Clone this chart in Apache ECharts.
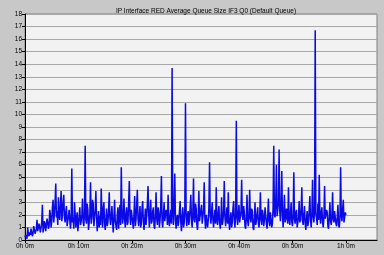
<!DOCTYPE html>
<html><head><meta charset="utf-8">
<script src="https://cdn.jsdelivr.net/npm/echarts@6/dist/echarts.min.js"></script>
<style>html,body{margin:0;padding:0;background:#c8c8c8}#c{width:384px;height:255px}</style>
</head><body><div id="c"></div>
<script>
const titleText = 'IP Interface RED Average Queue Size IF3 Q0 (Default Queue)';
const stepMinutes = 0.125;
const xTickMinutes = [0, 10, 20, 30, 40, 50, 60];
const queueSize = [
0.2,0.4,0.3,0.1,1.0,0.5,0.3,0.6, 0.4,0.9,0.6,0.3,0.5,1.1,1.0,0.5,
0.6,0.9,1.6,0.7,0.8,1.3,1.2,0.6, 0.7,1.4,2.8,0.6,0.9,1.5,1.3,0.7,
0.8,1.7,1.4,0.9,1.1,2.4,2.0,1.0, 1.5,2.6,3.2,1.4,2.1,3.0,4.5,1.8,
2.3,1.2,3.4,2.0,1.6,2.8,3.9,1.5, 2.0,3.1,3.6,1.8,1.4,2.2,2.7,1.1,
1.2,1.9,2.4,1.6,0.9,1.7,5.7,1.4, 1.8,0.9,3.0,2.1,1.0,1.6,2.2,0.7,
0.8,1.9,2.6,1.2,1.5,2.0,3.3,1.4, 1.1,2.2,7.5,1.6,1.3,2.9,2.4,0.8,
0.9,2.1,4.6,1.3,1.7,3.2,2.9,1.1, 1.2,2.4,3.9,1.8,0.7,1.5,2.3,1.0,
1.9,1.2,4.1,2.2,1.0,2.5,3.0,1.3, 0.8,1.6,2.5,1.1,1.4,2.3,3.8,1.7,
1.2,2.0,2.7,1.4,0.6,1.8,3.2,1.5, 1.5,0.8,2.0,2.6,0.9,1.9,2.8,1.2,
5.8,2.2,1.3,2.0,3.3,1.6,1.0,2.1, 2.6,1.2,1.4,3.0,4.7,1.8,1.2,2.4,
2.4,1.4,0.9,2.1,3.5,1.1,1.6,2.8, 4.0,1.7,1.1,1.9,2.7,1.0,1.3,2.5,
3.1,1.5,0.8,1.6,2.5,1.2,1.9,2.9, 4.3,2.0,1.0,2.2,3.2,1.3,1.5,2.3,
2.6,1.1,0.9,2.0,3.8,1.7,1.2,2.6, 2.2,1.0,1.6,2.7,5.1,1.4,1.0,2.0,
3.0,1.5,1.4,2.4,2.1,1.2,3.6,1.7, 1.1,1.8,2.4,1.3,13.7,2.2,1.2,2.8,
5.3,1.6,0.9,1.8,2.0,1.1,1.5,2.3, 3.1,1.4,0.7,1.9,2.6,1.0,1.3,2.5,
10.9,1.8,1.1,2.0,2.3,1.2,1.7,2.6, 3.6,1.4,1.0,2.2,4.9,1.6,1.4,2.9,
2.5,1.2,0.8,1.9,3.9,1.5,1.6,2.4, 2.8,1.3,1.2,2.4,4.6,1.7,0.9,2.0,
2.1,1.0,1.5,2.6,6.2,1.9,1.3,2.2, 3.0,1.6,1.0,1.8,2.4,1.3,4.2,1.7,
1.2,2.1,2.7,1.4,0.9,1.6,3.4,1.2, 1.5,2.3,4.7,1.8,1.1,1.9,2.6,1.3,
3.8,1.5,0.8,1.7,2.2,1.0,1.4,2.5, 3.1,1.6,1.0,2.0,9.5,1.8,1.2,2.1,
2.8,1.4,1.3,2.3,4.8,1.9,1.6,2.7, 2.2,1.1,0.9,1.8,3.6,1.5,1.1,2.0,
4.0,1.7,1.4,2.5,2.3,1.0,0.8,1.6, 3.0,1.2,1.5,2.1,2.6,1.3,1.0,1.9,
3.8,1.6,1.2,2.4,2.0,1.1,1.6,2.6, 2.7,1.3,0.9,1.9,3.3,1.5,1.1,2.2,
2.1,1.0,1.3,2.6,7.5,2.0,1.8,3.1, 6.0,1.9,2.4,3.0,7.2,2.3,1.5,2.8,
5.5,2.0,1.0,2.2,3.6,1.4,1.7,2.5, 2.6,1.3,4.2,1.8,1.2,2.1,3.0,1.4,
1.1,2.0,5.4,1.7,1.3,2.2,2.4,1.0, 0.9,1.8,3.1,1.4,1.6,2.5,4.2,1.5,
1.2,2.0,2.7,1.3,0.8,1.7,2.3,1.1, 1.5,2.4,3.5,1.6,1.0,2.0,4.8,1.9,
1.4,2.3,16.7,2.1,1.7,1.2,2.9,1.6, 5.2,2.0,1.3,2.2,2.6,1.4,1.0,1.8,
4.3,1.7,1.6,2.4,2.2,1.1,0.9,1.9, 3.0,1.5,1.2,2.0,3.8,1.6,1.4,2.3,
2.4,1.3,1.1,1.9,2.8,1.2,1.0,1.7, 5.8,2.0,1.5,2.4,3.2,1.4,1.3,2.2,
2.0
];
const seriesData = queueSize.map((v, i) => [i * stepMinutes, v]);
function fmtTime(m) {
  const h = Math.floor(m / 60), mm = Math.round(m - h * 60);
  return h + 'h ' + mm + 'm';
}
const chart = echarts.init(document.getElementById('c'), null, {renderer: 'canvas'});
chart.setOption({
  animation: false,
  backgroundColor: '#c8c8c8',
  title: {text: titleText, left: 201, top: 3, textAlign: 'center',
    textStyle: {fontFamily: 'Liberation Sans', fontSize: 6.5, fontWeight: 'normal', color: '#000'}},
  grid: {left: 25, right: 7, top: 14, bottom: 15, show: true, backgroundColor: '#f2f2f2',
    borderColor: '#808080', borderWidth: 1},
  xAxis: {type: 'value', min: 0, max: 65.8, interval: 10,
    axisLine: {show: true, lineStyle: {color: '#000', width: 1}},
    axisTick: {show: true, length: 3, lineStyle: {color: '#000'}},
    splitLine: {show: false},
    axisLabel: {showMaxLabel: false, fontFamily: 'Liberation Sans', fontSize: 6.5, color: '#000', margin: 3,
      formatter: v => xTickMinutes.includes(v) ? fmtTime(v) : ''}},
  yAxis: {type: 'value', min: 0, max: 18, interval: 1,
    axisLine: {show: true, lineStyle: {color: '#000', width: 1}},
    axisTick: {show: true, length: 3, lineStyle: {color: '#000'}},
    splitLine: {show: true, lineStyle: {color: '#a8a8a8', width: 1}},
    axisLabel: {fontFamily: 'Liberation Sans', fontSize: 6.5, color: '#000', margin: 3}},
  series: [{type: 'line', data: seriesData, showSymbol: false, symbol: 'none',
    lineStyle: {color: '#0a0ae6', width: 1.5}}]
});
</script></body></html>
